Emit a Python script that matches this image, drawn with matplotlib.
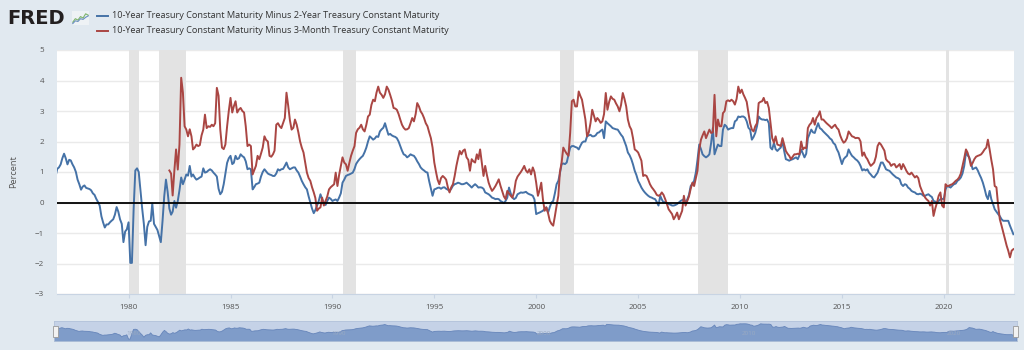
import numpy as np
import pandas as pd
import matplotlib
matplotlib.use("Agg")
import matplotlib.pyplot as plt
import matplotlib.dates as mdates
from matplotlib.lines import Line2D
from matplotlib.patches import Rectangle

plt.rcParams['font.family'] = ['Open Sans', 'DejaVu Sans']

# 10Y minus 2Y, monthly from 1976-06
t10y2y = [
    0.85, 1.10, 1.15, 1.25, 1.45, 1.60, 1.45,
    1.25, 1.40, 1.38, 1.25, 1.15, 1.00, 0.75, 0.60, 0.42, 0.52, 0.56, 0.48,
    0.46, 0.44, 0.40, 0.30, 0.25, 0.12, 0.02, -0.10, -0.45, -0.65, -0.82, -0.72,
    -0.72, -0.65, -0.60, -0.55, -0.40, -0.15, -0.30, -0.55, -0.70, -1.30, -0.95, -0.88,
    -0.65, -1.98, -1.98, -0.20, 1.05, 1.12, 1.00, 0.40, -0.20, -0.70, -1.40, -0.80,
    -0.62, -0.60, -0.03, -0.70, -0.80, -0.90, -1.10, -1.30, -0.60, 0.20, 0.75, 0.35,
    -0.20, -0.40, -0.30, 0.05, -0.17, 0.05, 0.40, 0.82, 0.60, 0.75, 0.92, 0.88,
    1.20, 0.85, 0.92, 0.82, 0.75, 0.78, 0.82, 0.85, 1.12, 0.98, 1.00, 1.05,
    1.09, 1.05, 0.98, 0.92, 0.85, 0.45, 0.27, 0.35, 0.60, 0.95, 1.30, 1.45,
    1.53, 1.26, 1.30, 1.53, 1.42, 1.45, 1.58, 1.52, 1.48, 1.35, 1.09, 1.12,
    1.09, 0.43, 0.50, 0.60, 0.62, 0.65, 0.85, 1.00, 1.09, 1.02, 0.95, 0.92,
    0.90, 0.87, 0.87, 0.95, 1.09, 1.05, 1.09, 1.10, 1.20, 1.31, 1.15, 1.09,
    1.12, 1.15, 1.15, 1.05, 0.98, 0.85, 0.71, 0.60, 0.50, 0.43, 0.20, 0.00,
    -0.20, -0.35, -0.25, -0.10, 0.05, 0.27, 0.10, 0.00, -0.08, 0.05, 0.16, 0.12,
    0.05, 0.08, 0.10, 0.05, 0.16, 0.30, 0.65, 0.75, 0.87, 0.90, 0.92, 0.95,
    0.98, 1.10, 1.26, 1.35, 1.42, 1.48, 1.53, 1.65, 1.80, 2.00, 2.17, 2.12,
    2.06, 2.10, 2.17, 2.15, 2.33, 2.40, 2.45, 2.60, 2.40, 2.22, 2.25, 2.20,
    2.17, 2.15, 2.11, 2.00, 1.85, 1.70, 1.58, 1.55, 1.48, 1.52, 1.58, 1.55,
    1.53, 1.45, 1.35, 1.26, 1.15, 1.09, 1.05, 1.00, 0.98, 0.70, 0.45, 0.22,
    0.43, 0.45, 0.48, 0.49, 0.45, 0.49, 0.50, 0.45, 0.42, 0.38, 0.45, 0.55,
    0.60, 0.62, 0.65, 0.63, 0.60, 0.60, 0.62, 0.65, 0.60, 0.55, 0.49, 0.55,
    0.60, 0.55, 0.49, 0.50, 0.49, 0.45, 0.33, 0.30, 0.27, 0.22, 0.16, 0.14,
    0.11, 0.12, 0.11, 0.05, 0.02, -0.02, 0.05, 0.16, 0.49, 0.30, 0.16, 0.11,
    0.15, 0.27, 0.30, 0.33, 0.32, 0.33, 0.35, 0.30, 0.27, 0.25, 0.22, 0.10,
    -0.38, -0.35, -0.33, -0.30, -0.27, -0.20, -0.16, -0.33, -0.15, 0.00, 0.05, 0.30,
    0.60, 0.71, 0.95, 1.26, 1.28, 1.26, 1.31, 1.55, 1.80, 1.85, 1.85, 1.82,
    1.80, 1.74, 1.85, 1.96, 2.00, 2.00, 2.17, 2.20, 2.22, 2.17, 2.17, 2.20,
    2.28, 2.30, 2.35, 2.39, 2.11, 2.66, 2.60, 2.55, 2.50, 2.44, 2.42, 2.40,
    2.39, 2.30, 2.22, 2.15, 2.00, 1.85, 1.64, 1.55, 1.42, 1.25, 1.04, 0.90,
    0.71, 0.60, 0.49, 0.40, 0.33, 0.27, 0.22, 0.18, 0.16, 0.13, 0.11, 0.02,
    -0.10, 0.22, 0.10, 0.00, 0.02, -0.03, -0.05, -0.07, -0.10, -0.10, -0.08, -0.05,
    0.00, 0.05, 0.08, 0.11, 0.00, 0.10, 0.25, 0.54, 0.62, 0.71, 0.98, 1.40,
    1.90, 1.75, 1.58, 1.52, 1.48, 1.52, 1.58, 1.95, 2.44, 1.58, 1.75, 1.90,
    1.85, 1.85, 2.39, 2.55, 2.50, 2.39, 2.42, 2.44, 2.44, 2.66, 2.70, 2.82,
    2.80, 2.82, 2.82, 2.78, 2.66, 2.45, 2.39, 2.06, 2.15, 2.28, 2.50, 2.82,
    2.75, 2.72, 2.72, 2.70, 2.72, 2.60, 1.80, 1.74, 1.96, 1.75, 1.69, 1.75,
    1.80, 2.00, 1.70, 1.42, 1.40, 1.37, 1.40, 1.42, 1.45, 1.48, 1.42, 1.55,
    1.74, 1.60, 1.48, 1.60, 2.11, 2.25, 2.39, 2.30, 2.28, 2.45, 2.60, 2.44,
    2.40, 2.33, 2.28, 2.22, 2.17, 2.10, 2.06, 1.95, 1.90, 1.75, 1.64, 1.45,
    1.26, 1.42, 1.48, 1.53, 1.74, 1.62, 1.53, 1.48, 1.42, 1.38, 1.31, 1.20,
    1.05, 1.09, 1.05, 1.09, 0.98, 0.92, 0.85, 0.82, 0.90, 0.98, 1.15, 1.31,
    1.31, 1.20, 1.09, 1.06, 1.04, 0.98, 0.92, 0.87, 0.82, 0.80, 0.76, 0.60,
    0.54, 0.60, 0.58, 0.49, 0.45, 0.38, 0.35, 0.33, 0.28, 0.27, 0.29, 0.27,
    0.22, 0.22, 0.25, 0.27, 0.22, 0.18, 0.05, 0.03, 0.00, 0.05, 0.11, 0.12,
    0.11, 0.43, 0.54, 0.52, 0.49, 0.55, 0.60, 0.62, 0.71, 0.75, 0.82, 0.95,
    1.20, 1.64, 1.55, 1.48, 1.30, 1.09, 1.12, 1.15, 1.05, 0.92, 0.80, 0.65,
    0.45, 0.22, 0.11, 0.38, 0.11, -0.05, -0.22, -0.30, -0.38, -0.45, -0.55, -0.60,
    -0.60, -0.60, -0.60, -0.76, -0.90, -1.04,
]

# 10Y minus 3M, monthly from 1982-01
t10y3m = [
    1.05, 0.95, 0.23, 1.05, 1.74, 1.08, 1.90, 4.09, 3.60, 2.50, 2.39, 2.17,
    2.40, 2.17, 1.74, 1.80, 1.90, 1.85, 1.88, 2.20, 2.39, 2.88, 2.44, 2.50,
    2.48, 2.55, 2.50, 2.60, 3.76, 3.50, 2.40, 1.80, 1.75, 1.90, 2.50, 3.00,
    3.43, 2.95, 3.15, 3.32, 2.95, 3.05, 3.10, 3.00, 2.95, 2.50, 1.85, 1.90,
    1.85, 0.92, 1.05, 1.20, 1.53, 1.42, 1.60, 1.80, 2.17, 2.05, 2.00, 1.53,
    1.50, 1.58, 1.70, 2.55, 2.60, 2.50, 2.44, 2.60, 2.77, 3.60, 3.17, 2.70,
    2.39, 2.45, 2.72, 2.55, 2.30, 2.00, 1.80, 1.64, 1.30, 0.98, 0.80, 0.71,
    0.50, 0.33, 0.15, -0.27, -0.20, -0.16, 0.16, -0.10, 0.05, 0.20, 0.43, 0.50,
    0.55, 0.60, 0.98, 0.54, 0.90, 1.20, 1.48, 1.31, 1.25, 1.04, 1.30, 1.53,
    1.70, 1.85, 2.28, 2.40, 2.45, 2.55, 2.40, 2.33, 2.55, 2.82, 2.88, 3.20,
    3.37, 3.32, 3.60, 3.80, 3.60, 3.53, 3.43, 3.55, 3.80, 3.70, 3.53, 3.35,
    3.10, 3.08, 3.04, 2.90, 2.72, 2.55, 2.45, 2.39, 2.40, 2.44, 2.60, 2.77,
    2.66, 2.90, 3.26, 3.15, 2.99, 2.90, 2.77, 2.60, 2.50, 2.30, 2.11, 1.80,
    1.31, 1.00, 0.75, 0.60, 0.80, 0.87, 0.82, 0.75, 0.50, 0.33, 0.50, 0.60,
    0.87, 1.20, 1.45, 1.69, 1.58, 1.70, 1.74, 1.48, 1.40, 1.04, 1.42, 1.35,
    1.31, 1.58, 1.42, 1.74, 1.30, 0.87, 1.20, 0.90, 0.65, 0.50, 0.38, 0.45,
    0.54, 0.65, 0.76, 0.55, 0.38, 0.20, 0.11, 0.38, 0.30, 0.22, 0.16, 0.35,
    0.71, 0.85, 0.92, 1.00, 1.09, 1.20, 1.05, 0.98, 1.09, 0.92, 1.15, 1.00,
    0.65, 0.22, 0.40, 0.65, 0.10, -0.27, -0.16, -0.35, -0.60, -0.70, -0.76, -0.45,
    -0.10, 0.22, 1.00, 1.31, 1.80, 1.69, 1.60, 1.53, 2.28, 3.32, 3.37, 3.15,
    3.15, 3.64, 3.50, 3.37, 3.05, 2.72, 2.17, 2.30, 2.61, 3.04, 2.85, 2.66,
    2.77, 2.70, 2.61, 2.66, 2.90, 3.59, 3.04, 3.30, 3.48, 3.40, 3.37, 3.25,
    3.15, 2.99, 3.20, 3.59, 3.40, 3.15, 2.72, 2.50, 2.39, 2.11, 1.74, 1.70,
    1.64, 1.50, 1.37, 0.87, 0.90, 0.87, 0.75, 0.60, 0.50, 0.43, 0.35, 0.25,
    0.22, 0.25, 0.33, 0.25, 0.11, -0.05, -0.22, -0.30, -0.38, -0.55, -0.45, -0.33,
    -0.55, -0.40, -0.27, 0.22, -0.10, 0.05, 0.20, 0.45, 0.65, 0.54, 0.80, 1.04,
    1.74, 2.06, 2.20, 2.33, 2.11, 2.25, 2.39, 2.28, 2.30, 3.53, 2.17, 2.72,
    2.50, 2.50, 2.93, 3.00, 3.32, 3.35, 3.32, 3.37, 3.32, 3.21, 3.40, 3.80,
    3.59, 3.70, 3.55, 3.43, 3.30, 2.93, 2.60, 2.39, 2.33, 2.50, 2.60, 3.26,
    3.30, 3.32, 3.43, 3.26, 3.30, 3.10, 2.60, 2.11, 1.96, 2.17, 1.90, 1.88,
    1.85, 2.11, 1.90, 1.69, 1.60, 1.53, 1.42, 1.50, 1.58, 1.58, 1.60, 1.58,
    2.00, 1.74, 1.80, 1.78, 2.44, 2.55, 2.61, 2.77, 2.55, 2.77, 2.85, 2.99,
    2.72, 2.72, 2.66, 2.60, 2.55, 2.50, 2.44, 2.50, 2.55, 2.45, 2.39, 2.20,
    2.06, 1.96, 2.00, 2.11, 2.33, 2.25, 2.17, 2.15, 2.11, 2.12, 2.11, 2.00,
    1.53, 1.64, 1.50, 1.42, 1.30, 1.20, 1.25, 1.31, 1.50, 1.85, 1.96, 1.90,
    1.80, 1.70, 1.42, 1.35, 1.31, 1.20, 1.25, 1.26, 1.15, 1.20, 1.26, 1.09,
    1.26, 1.15, 1.04, 0.95, 0.92, 0.98, 0.90, 0.82, 0.87, 0.80, 0.54, 0.40,
    0.27, 0.16, 0.10, 0.05, -0.10, 0.05, -0.44, -0.20, 0.00, 0.22, 0.33, -0.10,
    -0.16, 0.60, 0.54, 0.55, 0.58, 0.60, 0.65, 0.71, 0.75, 0.82, 0.95, 1.20,
    1.45, 1.74, 1.64, 1.45, 1.20, 1.30, 1.42, 1.50, 1.53, 1.55, 1.58, 1.65,
    1.74, 1.80, 2.06, 1.74, 1.40, 1.09, 0.54, 0.50, -0.10, -0.55, -0.76, -0.98,
    -1.20, -1.42, -1.58, -1.80, -1.58, -1.53,
]

# recese (NBER), stinovane sede
recese_od = ['1980-01-01', '1981-07-01', '1990-07-01', '2001-03-01', '2007-12-01', '2020-02-01']
recese_do = ['1980-07-01', '1982-11-01', '1991-03-01', '2001-11-01', '2009-06-01', '2020-04-01']

nazev_2y = "10-Year Treasury Constant Maturity Minus 2-Year Treasury Constant Maturity"
nazev_3m = "10-Year Treasury Constant Maturity Minus 3-Month Treasury Constant Maturity"

y_ticks = [-3, -2, -1, 0, 1, 2, 3, 4, 5]

# male logo grafu vedle napisu FRED
logo_zelena = [0.2, 0.45, 0.35, 0.6, 0.5, 0.8, 0.7]
logo_modra = [0.1, 0.3, 0.25, 0.45, 0.4, 0.55, 0.65]

modra = '#4572A7'
cervena = '#AA4643'
pozadi = '#E1E9F0'
sediva = '#555555'

datum_2y = pd.date_range('1976-06-01', periods=len(t10y2y), freq='MS')
datum_3m = pd.date_range('1982-01-01', periods=len(t10y3m), freq='MS')

W, H = 1024, 350
fig = plt.figure(figsize=(W / 100, H / 100), dpi=100, facecolor=pozadi)

ax = fig.add_axes([56.7 / W, 1 - 294 / H, (1014 - 56.7) / W, (294 - 50) / H])
ax.set_facecolor('white')

for od, do in zip(recese_od, recese_do):
    ax.axvspan(pd.Timestamp(od), pd.Timestamp(do), color='#E3E3E3', lw=0, zorder=1)

ax.plot(datum_2y, t10y2y, color=modra, lw=1.4, zorder=3)
ax.plot(datum_3m, t10y3m, color=cervena, lw=1.4, zorder=3)
ax.axhline(0, color='black', lw=1.3, zorder=4)

ax.set_ylim(-3, 5)
ax.set_yticks(y_ticks)
ax.set_xlim(pd.Timestamp('1976-06-22'), pd.Timestamp('2023-06-12'))
ax.xaxis.set_major_locator(mdates.YearLocator(5))
ax.xaxis.set_major_formatter(mdates.DateFormatter('%Y'))

ax.yaxis.grid(True, color='#EAEAEA', lw=1, zorder=0)
ax.set_axisbelow(True)
for s in ['top', 'right', 'left']:
    ax.spines[s].set_visible(False)
ax.spines['bottom'].set_color('#C8D4E3')
ax.spines['bottom'].set_linewidth(0.8)

ax.tick_params(axis='y', length=0, pad=9, labelsize=5.8, labelcolor=sediva)
ax.tick_params(axis='x', length=3, width=0.8, color='#C8D4E3', pad=4,
               labelsize=5.8, labelcolor=sediva)
ax.set_ylabel('Percent', fontsize=6.6, color=sediva)
ax.yaxis.set_label_coords(-0.0401, 0.5)

# hlavicka: logo a legenda
fig.text(7 / W, 1 - 18 / H, 'FRED', fontsize=14, fontweight='heavy',
         color='#231F20', va='center', ha='left', family='DejaVu Sans')
ikona = fig.add_axes([72 / W, 1 - 25 / H, 17 / W, 14 / H])
ikona.set_facecolor('#EEF2F5')
ikona.plot(logo_zelena, color='#7DB36B', lw=0.8)
ikona.plot(logo_modra, color='#6A8FC0', lw=0.8)
ikona.set_ylim(0, 1)
ikona.set_xticks([])
ikona.set_yticks([])
for s in ikona.spines.values():
    s.set_visible(False)

for i, (nazev, barva) in enumerate([(nazev_2y, modra), (nazev_3m, cervena)]):
    y = 1 - (16 + 14.6 * i) / H
    fig.add_artist(Line2D([97 / W, 108 / W], [y, y], color=barva, lw=1.4))
    fig.text(112.5 / W, y, nazev, fontsize=6.6, color='#333333', va='center', ha='left')

# navigator dole
nav = fig.add_axes([54 / W, 1 - 341 / H, (1017 - 54) / W, 20 / H])
nav.set_facecolor('#C5D2E7')
nav.fill_between(datum_2y, t10y2y, -3, color='#7F9CC9', lw=0.6, edgecolor='#6685BA')
nav.set_ylim(-2.75, 3.55)
nav.set_xlim(ax.get_xlim())
nav.xaxis.set_major_locator(mdates.YearLocator(10))
nav.xaxis.set_major_formatter(mdates.DateFormatter('%Y'))
nav.tick_params(axis='x', direction='in', length=0, pad=-7, labelsize=4.5,
                labelcolor='#9AAAC2')
for lab in nav.get_xticklabels():
    lab.set_horizontalalignment('left')
nav.set_yticks([])
for s in nav.spines.values():
    s.set_color('#B4C3DA')
    s.set_linewidth(0.6)

for x0 in [52.5, 1012.5]:
    fig.add_artist(Rectangle((x0 / W, 1 - 337 / H), 5.5 / W, 11 / H,
                             facecolor='#F2F2F2', edgecolor='#999999', lw=0.6))

fig.savefig('out.png', dpi=100, facecolor=pozadi)
